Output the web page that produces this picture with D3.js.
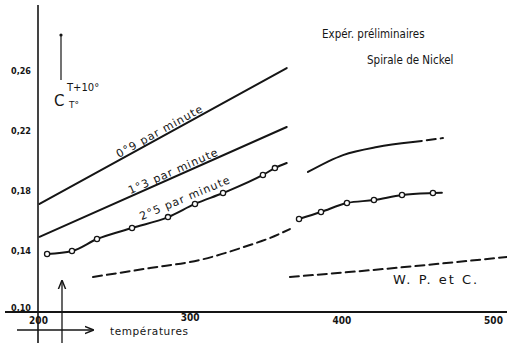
<!DOCTYPE html>
<html>
<head>
<meta charset="utf-8">
<script src="https://cdn.jsdelivr.net/npm/d3@7"></script>
<style>
  body { margin: 0; background: #fff; }
  svg { display: block; font-family: "DejaVu Sans", sans-serif; }
</style>
</head>
<body>
<div id="chart"></div>
<script>
const width = 507;
const height = 343;

// valeurs : [température, C]
const yTicks = [0.10, 0.14, 0.18, 0.22, 0.26];
const xTicks = [200, 300, 400, 500];

const line09 = [[201, 0.171], [364, 0.262]];
const line13 = [[201, 0.149], [364, 0.2225]];
const line25 = [[206, 0.1375], [222.4, 0.1395], [238.9, 0.1475], [262, 0.1549], [285.7, 0.1622],
                [303.5, 0.171], [322, 0.1783], [348.3, 0.1904], [356.2, 0.195], [364, 0.1984]];
const points25 = [[206, 0.1375], [222.4, 0.1395], [238.9, 0.1475], [262, 0.1549], [285.7, 0.1622],
                  [303.5, 0.171], [322, 0.1783], [348.3, 0.1904], [356.2, 0.195]];
const dashLeft = [[236.3, 0.1221], [273.8, 0.1281], [306.8, 0.1335], [339.7, 0.1435], [352.9, 0.1482], [366.1, 0.1542]];
const upperRightSolid = [[378, 0.1924], [401.1, 0.2037], [423.5, 0.2091], [447.2, 0.2124]];
const upperRightDash = [[447.2, 0.2124], [467, 0.2151]];
const lowerRight = [[372.1, 0.1609], [386.6, 0.1656], [403.7, 0.1716], [421.5, 0.1736], [440, 0.177], [460.4, 0.1783], [466.3, 0.1785]];
const pointsRight = [[372.1, 0.1609], [386.6, 0.1656], [403.7, 0.1716], [421.5, 0.1736], [440, 0.177], [460.4, 0.1783]];
const dashWPC = [[366.1, 0.1221], [427.4, 0.1274], [509.2, 0.1355]];

const ink = "#151515";

const x = d3.scaleLinear().domain([200, 500]).range([38, 493]);
const y = d3.scaleLinear().domain([0.10, 0.26]).range([310, 71]);

const svg = d3.select("#chart").append("svg")
    .attr("width", width)
    .attr("height", height);

// axes tracés à la main
svg.append("line")
    .attr("x1", x(200)).attr("x2", x(200))
    .attr("y1", 5).attr("y2", height)
    .attr("stroke", ink).attr("stroke-width", 1.6);
svg.append("line")
    .attr("x1", 5).attr("x2", width)
    .attr("y1", y(0.10) + 2).attr("y2", y(0.10) + 2)
    .attr("stroke", ink).attr("stroke-width", 1.8);

const yAxis = svg.append("g")
    .attr("transform", `translate(${x(200) - 1},0)`)
    .call(d3.axisLeft(y).tickValues(yTicks).tickSize(0).tickPadding(6)
        .tickFormat(d => d3.format(".2f")(d).replace(".", ",")));
yAxis.select(".domain").remove();
yAxis.selectAll("text")
    .attr("fill", ink).style("font-size", "9px").style("font-weight", "bold")
    .style("font-family", "DejaVu Sans Condensed, DejaVu Sans");
yAxis.selectAll(".tick").filter(d => d === 0.10).select("text").attr("dy", "0.05em");

const xAxis = svg.append("g")
    .attr("transform", `translate(0,${y(0.10) + 3})`)
    .call(d3.axisBottom(x).tickValues(xTicks).tickSize(0).tickPadding(4).tickFormat(d3.format("d")));
xAxis.select(".domain").remove();
xAxis.selectAll("text")
    .attr("fill", ink).style("font-size", "10px").style("font-weight", "bold")
    .style("font-family", "DejaVu Sans Condensed, DejaVu Sans");
xAxis.selectAll(".tick").filter(d => d === 300).select("text").attr("dy", "0.4em");

// petite flèche des températures
const defs = svg.append("defs");
defs.append("marker")
    .attr("id", "arrow")
    .attr("viewBox", "0 0 10 10")
    .attr("refX", 9).attr("refY", 5)
    .attr("markerWidth", 7).attr("markerHeight", 7)
    .attr("orient", "auto")
    .append("path")
    .attr("d", "M0,1 L10,5 L0,9")
    .attr("fill", "none").attr("stroke", ink).attr("stroke-width", 1.6);

svg.append("line")
    .attr("x1", 17).attr("x2", 93).attr("y1", 330).attr("y2", 330)
    .attr("stroke", ink).attr("stroke-width", 1.3).attr("marker-end", "url(#arrow)");
svg.append("line")
    .attr("x1", 62).attr("x2", 62).attr("y1", height).attr("y2", 281)
    .attr("stroke", ink).attr("stroke-width", 1.3).attr("marker-end", "url(#arrow)");
svg.append("text")
    .attr("x", 110).attr("y", 335)
    .attr("fill", ink).style("font-size", "10.5px").style("letter-spacing", "0.6px")
    .text("températures");

// C T+10° / T°
svg.append("line")
    .attr("x1", 61).attr("x2", 61).attr("y1", 80).attr("y2", 35)
    .attr("stroke", ink).attr("stroke-width", 1.2);
svg.append("circle").attr("cx", 61).attr("cy", 35).attr("r", 1.6).attr("fill", ink);
svg.append("text").attr("x", 54).attr("y", 106).attr("fill", ink)
    .style("font-size", "15px").text("C");
svg.append("text").attr("x", 67).attr("y", 91).attr("fill", ink)
    .style("font-size", "10px").text("T+10°");
svg.append("text").attr("x", 69).attr("y", 108).attr("fill", ink)
    .style("font-size", "9px").text("T°");

// titres
svg.append("text").attr("x", 322).attr("y", 38).attr("fill", ink)
    .style("font-size", "11.5px").style("font-family", "DejaVu Sans Condensed, DejaVu Sans")
    .text("Expér. préliminaires");
svg.append("text").attr("x", 367).attr("y", 64).attr("fill", ink)
    .style("font-size", "11.5px").style("font-family", "DejaVu Sans Condensed, DejaVu Sans")
    .text("Spirale de Nickel");

// courbes
const straight = d3.line().x(d => x(d[0])).y(d => y(d[1]));
const smooth = d3.line().x(d => x(d[0])).y(d => y(d[1])).curve(d3.curveMonotoneX);

function drawPath(data, gen, dashed) {
    svg.append("path")
        .datum(data)
        .attr("d", gen)
        .attr("fill", "none")
        .attr("stroke", ink)
        .attr("stroke-width", 2)
        .attr("stroke-linecap", "round")
        .attr("stroke-dasharray", dashed ? "9,5" : null);
}

drawPath(line09, straight, false);
drawPath(line13, straight, false);
drawPath(line25, smooth, false);
drawPath(dashLeft, smooth, true);
drawPath(upperRightSolid, smooth, false);
drawPath(upperRightDash, straight, true);
drawPath(lowerRight, smooth, false);
drawPath(dashWPC, smooth, true);

svg.append("g").selectAll("circle")
    .data(points25.concat(pointsRight))
    .join("circle")
    .attr("cx", d => x(d[0]))
    .attr("cy", d => y(d[1]))
    .attr("r", 2.6)
    .attr("fill", "#fff")
    .attr("stroke", ink)
    .attr("stroke-width", 1.3);

// étiquettes le long des droites
function lineLabel(data, t, offset, txt) {
    const a = data[0], b = data[data.length - 1];
    const ang = Math.atan2(y(b[1]) - y(a[1]), x(b[0]) - x(a[0]));
    const v = a[1] + (b[1] - a[1]) * (t - a[0]) / (b[0] - a[0]);
    const px = x(t) + Math.sin(ang) * offset * -1;
    const py = y(v) - Math.cos(ang) * offset;
    svg.append("text")
        .attr("transform", `translate(${px},${py}) rotate(${ang * 180 / Math.PI})`)
        .attr("fill", ink)
        .style("font-size", "11px")
        .style("letter-spacing", "1px")
        .text(txt);
}

lineLabel(line09, 252, 4, "0°9 par minute");
lineLabel(line13, 260, 3, "1°3 par minute");
lineLabel([[262, 0.1549], [356.2, 0.195]], 267, 5, "2°5 par minute");

svg.append("text").attr("x", 393).attr("y", 284).attr("fill", ink)
    .style("font-size", "13px").style("letter-spacing", "2px")
    .text("W. P. et C.");
</script>
</body>
</html>
